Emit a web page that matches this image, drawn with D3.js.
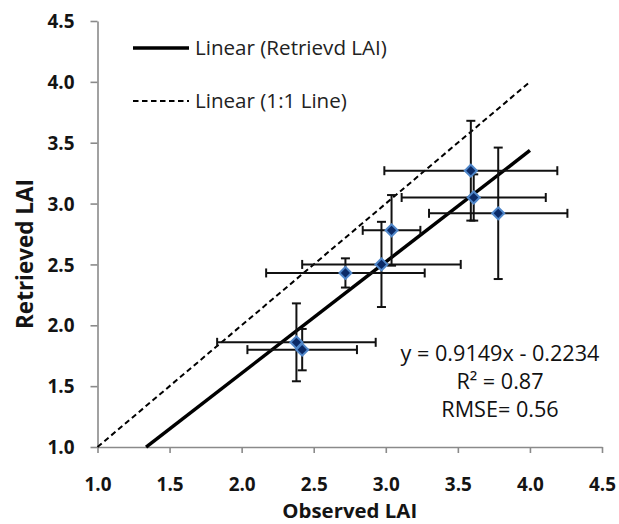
<!DOCTYPE html>
<html>
<head>
<meta charset="utf-8">
<script src="https://cdn.jsdelivr.net/npm/d3@7"></script>
<style>
  html, body { margin: 0; padding: 0; background: #fff; }
  svg { display: block; }
</style>
</head>
<body>
<script>
// ---- data ----
const observed    = [2.38, 2.42, 2.72, 2.97, 3.04, 3.59, 3.61, 3.78];
const retrieved   = [1.86, 1.80, 2.43, 2.50, 2.78, 3.27, 3.05, 2.92];
const observedErr = [0.55, 0.38, 0.55, 0.55, 0.20, 0.60, 0.50, 0.48];
const retrievedErr= [0.32, 0.17, 0.12, 0.35, 0.29, 0.41, 0.19, 0.54];
const fitSlope = 0.9149, fitIntercept = -0.2234;
const fitXRange = [1.337, 4.0];
const oneToOneRange = [1.0, 4.0];
const tickValues = [1.0, 1.5, 2.0, 2.5, 3.0, 3.5, 4.0, 4.5];
const legendLabels = ["Linear (Retrievd LAI)", "Linear (1:1 Line)"];
const statLines = ["y = 0.9149x - 0.2234", "R\u00B2 = 0.87", "RMSE= 0.56"];

const W = 619, H = 524;
const svg = d3.select("body").append("svg").attr("width", W).attr("height", H);

const x = d3.scaleLinear().domain([1, 4.5]).range([97.5, 602]);
const y = d3.scaleLinear().domain([1, 4.5]).range([447, 21]);

const axisColor = "#8a8a8a";
const textColor = "#141414";
const font = "'Open Sans', Lato, sans-serif";

// fit a text selection's font size so its width matches a target
function fitWidth(sel, target) {
  const n = sel.node();
  const fs = parseFloat(sel.attr("font-size"));
  const w = n.getComputedTextLength();
  const nf = fs * target / w;
  sel.attr("font-size", nf + "px");
  return nf;
}

// axes
const xAxis = svg.append("g").attr("transform", `translate(0,${y(1)})`)
  .call(d3.axisBottom(x).tickValues(tickValues).tickSize(6).tickSizeOuter(0).tickFormat(d3.format(".1f")));
const yAxis = svg.append("g").attr("transform", `translate(${x(1)},0)`)
  .call(d3.axisLeft(y).tickValues(tickValues).tickSize(7).tickSizeOuter(0).tickFormat(d3.format(".1f")));
const probe = svg.append("text").attr("font-family", font).attr("font-weight", "bold")
  .attr("font-size", 18).text("1.0");
const tickFs = fitWidth(probe, 27);
probe.remove();
[xAxis, yAxis].forEach(g => {
  g.select(".domain").attr("stroke", axisColor).attr("stroke-width", 1.6);
  g.selectAll(".tick line").attr("stroke", axisColor).attr("stroke-width", 1.6);
  g.selectAll(".tick text").attr("fill", textColor).attr("font-family", font)
    .attr("font-weight", "bold").attr("font-size", tickFs + "px");
});
xAxis.selectAll(".tick text").attr("y", 0).attr("dy", "0.35em").attr("transform", "translate(0,37)");
yAxis.selectAll(".tick text").attr("x", -23).attr("dy", "0.35em");

// axis titles
const xt = svg.append("text").attr("x", x(2.75)).attr("y", 511).attr("dy", "0.35em").attr("text-anchor", "middle")
  .attr("font-family", font).attr("font-weight", "bold").attr("font-size", 19)
  .attr("fill", textColor).text("Observed LAI");
fitWidth(xt, 135);
const yt = svg.append("text").attr("transform", `translate(25,${254}) rotate(-90)`).attr("dy", "0.35em")
  .attr("text-anchor", "middle")
  .attr("font-family", font).attr("font-weight", "bold").attr("font-size", 19)
  .attr("fill", textColor).text("Retrieved LAI");
fitWidth(yt, 150);

// lines
const line = d3.line().x(d => x(d[0])).y(d => y(d[1]));
svg.append("path").datum(oneToOneRange.map(v => [v, v])).attr("d", line)
  .attr("stroke", "#000").attr("stroke-width", 2).attr("stroke-dasharray", "5.5,3.5").attr("fill", "none");
svg.append("path").datum(fitXRange.map(v => [v, fitSlope * v + fitIntercept])).attr("d", line)
  .attr("stroke", "#000").attr("stroke-width", 3.5).attr("fill", "none");

// error bars
const pts = observed.map((o, i) => ({ x: o, y: retrieved[i], ex: observedErr[i], ey: retrievedErr[i] }));
const eb = svg.append("g").attr("stroke", "#111").attr("stroke-width", 2).attr("fill", "none");
const cap = 4.5;
pts.forEach(p => {
  const g = eb.append("g");
  g.append("line").attr("x1", x(p.x - p.ex)).attr("x2", x(p.x + p.ex)).attr("y1", y(p.y)).attr("y2", y(p.y));
  g.append("line").attr("x1", x(p.x - p.ex)).attr("x2", x(p.x - p.ex)).attr("y1", y(p.y) - cap).attr("y2", y(p.y) + cap);
  g.append("line").attr("x1", x(p.x + p.ex)).attr("x2", x(p.x + p.ex)).attr("y1", y(p.y) - cap).attr("y2", y(p.y) + cap);
  g.append("line").attr("x1", x(p.x)).attr("x2", x(p.x)).attr("y1", y(p.y - p.ey)).attr("y2", y(p.y + p.ey));
  g.append("line").attr("x1", x(p.x) - cap).attr("x2", x(p.x) + cap).attr("y1", y(p.y - p.ey)).attr("y2", y(p.y - p.ey));
  g.append("line").attr("x1", x(p.x) - cap).attr("x2", x(p.x) + cap).attr("y1", y(p.y + p.ey)).attr("y2", y(p.y + p.ey));
});

// markers
svg.append("g").selectAll("path").data(pts).join("path")
  .attr("d", d3.symbol(d3.symbolSquare, 72))
  .attr("transform", d => `translate(${x(d.x)},${y(d.y)}) rotate(45)`)
  .attr("fill", "#0b2a66").attr("stroke", "#4f86c9").attr("stroke-width", 2);

// legend
const legend = svg.append("g");
let legFs = null;
legendLabels.forEach((lab, i) => {
  const ly = 48 + i * 53;
  legend.append("line").attr("x1", 133).attr("x2", 189).attr("y1", ly).attr("y2", ly)
    .attr("stroke", "#000").attr("stroke-width", i === 0 ? 3.5 : 2)
    .attr("stroke-dasharray", i === 0 ? null : "5.5,3.5");
  const t = legend.append("text").attr("x", 195).attr("y", ly).attr("dy", "0.35em")
    .attr("font-family", font).attr("font-size", legFs || 18).attr("fill", "#222")
    .text(lab);
  if (i === 0) legFs = fitWidth(t, 192);
});

// stats
let statFs = null;
statLines.forEach((s, i) => {
  const t = svg.append("text").attr("x", 500).attr("y", 353 + i * 28).attr("dy", "0.35em")
    .attr("text-anchor", "middle").attr("font-family", font).attr("font-size", statFs || 19)
    .attr("fill", "#111").text(s);
  if (i === 0) statFs = fitWidth(t, 199);
});
</script>
</body>
</html>
